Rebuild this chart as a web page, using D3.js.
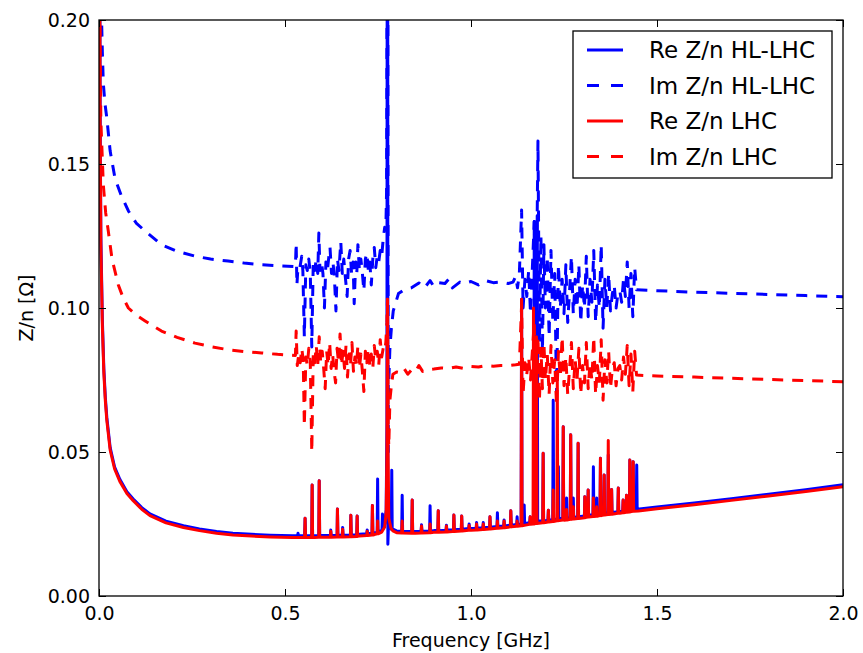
<!DOCTYPE html>
<html lang="en">
<head>
<meta charset="UTF-8">
<title>Z/n HL-LHC vs LHC</title>
<script src="https://d3js.org/d3.v7.min.js"></script>
<style>
  body { margin: 0; background: #fff; }
  text { font-family: "DejaVu Sans", sans-serif; fill: #000; }
</style>
</head>
<body>
<svg id="chart" width="863" height="653"></svg>
<script>
// axis ticks
const freqTicks = [0, 0.5, 1.0, 1.5, 2.0];
const zTicks = [0, 0.05, 0.10, 0.15, 0.20];
const seriesNames = ["Re Z/n HL-LHC", "Im Z/n HL-LHC", "Re Z/n LHC", "Im Z/n LHC"];

// Re Z/n HL-LHC, smooth part [GHz, Ohm]
const reHLBase = [[0.0015,0.26],[0.003,0.17],[0.005,0.125],[0.009,0.096],[0.013,0.079],[0.017,0.069],[0.021,0.062],[0.03,0.0515],[0.042,0.0448],[0.056,0.0405],[0.075,0.0362],[0.092,0.0337],[0.115,0.0307],[0.137,0.0285],[0.18,0.026],[0.227,0.0244],[0.27,0.0233],[0.316,0.0224],[0.36,0.0218],[0.41,0.0214],[0.46,0.0211],[0.52,0.0209],[0.58,0.0209],[0.64,0.0211],[0.70,0.0214],[0.74,0.0219],[0.76,0.0228],[0.768,0.025],[0.772,0.030],[0.774,0.06],[0.775,0.30],[0.776,0.30],[0.7765,0.018],[0.778,0.024],[0.782,0.0245],[0.79,0.0232],[0.80,0.0226],[0.85,0.0224],[0.90,0.0227],[0.95,0.023],[1.00,0.0234],[1.05,0.0239],[1.10,0.0245],[1.15,0.0253],[1.20,0.0261],[1.25,0.0269],[1.30,0.0277],[1.35,0.0285],[1.40,0.0293],[1.447,0.0301],[1.50,0.0309],[1.60,0.0323],[1.70,0.0338],[1.80,0.0353],[1.90,0.0369],[2.00,0.0386]];
// narrow resonances [GHz, base, peak]
const reHLSpikes = [[0.535,0.0209,0.0218],[0.554,0.0209,0.027],[0.573,0.0209,0.0385],[0.592,0.021,0.040],[0.623,0.021,0.0229],[0.641,0.0211,0.0302],[0.655,0.0211,0.0238],[0.677,0.0212,0.028],[0.694,0.0213,0.0278],[0.721,0.0216,0.0229],[0.735,0.0218,0.0314],[0.749,0.0222,0.0406],[0.762,0.0232,0.0285],[0.787,0.0232,0.0437],[0.815,0.0225,0.035],[0.842,0.0224,0.0333],[0.867,0.0225,0.0247],[0.890,0.0226,0.0313],[0.912,0.0227,0.0296],[0.934,0.0228,0.0246],[0.954,0.023,0.0281],[0.975,0.0232,0.0278],[0.995,0.0234,0.025],[1.015,0.0235,0.0255],[1.033,0.0237,0.0255],[1.051,0.0239,0.0275],[1.071,0.0241,0.0289],[1.089,0.0243,0.0264],[1.107,0.0246,0.0296],[1.124,0.0248,0.0275],[1.136,0.025,0.103],[1.143,0.025,0.0316],[1.159,0.0255,0.0275],[1.170,0.0257,0.13],[1.178,0.026,0.132],[1.194,0.026,0.0496],[1.208,0.0263,0.0298],[1.221,0.0265,0.068],[1.235,0.0268,0.045],[1.248,0.027,0.0588],[1.257,0.027,0.034],[1.268,0.0272,0.056],[1.275,0.0273,0.034],[1.288,0.0275,0.053],[1.306,0.0278,0.0345],[1.315,0.028,0.0368],[1.329,0.0282,0.0449],[1.338,0.0283,0.034],[1.348,0.0285,0.0478],[1.358,0.0287,0.042],[1.369,0.0289,0.049],[1.378,0.029,0.037],[1.396,0.0293,0.0375],[1.409,0.0295,0.0333],[1.418,0.0297,0.035],[1.427,0.0298,0.0472],[1.436,0.03,0.0466],[1.4455,0.0301,0.0455]];

// Re Z/n LHC
const reLHCBase = [[0.0015,0.25],[0.003,0.165],[0.005,0.122],[0.009,0.094],[0.013,0.0775],[0.017,0.0678],[0.021,0.061],[0.03,0.0507],[0.042,0.0441],[0.056,0.0398],[0.075,0.0356],[0.092,0.0331],[0.115,0.0301],[0.137,0.0279],[0.18,0.0254],[0.227,0.0238],[0.27,0.0227],[0.316,0.0218],[0.36,0.0212],[0.41,0.0208],[0.46,0.0205],[0.52,0.0203],[0.58,0.0203],[0.64,0.0205],[0.70,0.0208],[0.74,0.0213],[0.76,0.0222],[0.768,0.024],[0.772,0.029],[0.774,0.05],[0.7755,0.103],[0.777,0.05],[0.779,0.027],[0.785,0.0235],[0.79,0.0226],[0.80,0.022],[0.85,0.0218],[0.90,0.0221],[0.95,0.0224],[1.00,0.0228],[1.05,0.0233],[1.10,0.0239],[1.15,0.0247],[1.20,0.0255],[1.25,0.0263],[1.30,0.0271],[1.35,0.0279],[1.40,0.0287],[1.45,0.0295],[1.50,0.0303],[1.60,0.0317],[1.70,0.0332],[1.80,0.0347],[1.90,0.0363],[2.00,0.0379]];
const reLHCSpikes = [[0.554,0.0203,0.027],[0.573,0.0203,0.0385],[0.592,0.0204,0.040],[0.623,0.0204,0.0225],[0.641,0.0205,0.0302],[0.655,0.0205,0.0232],[0.677,0.0206,0.028],[0.694,0.0207,0.0278],[0.721,0.021,0.0225],[0.735,0.0212,0.0314],[0.749,0.0216,0.026],[0.815,0.0219,0.026],[0.842,0.0218,0.0333],[0.867,0.0219,0.0243],[0.890,0.022,0.025],[0.912,0.0221,0.0296],[0.934,0.0222,0.0243],[0.954,0.0224,0.0281],[0.975,0.0226,0.0278],[0.995,0.0228,0.0245],[1.015,0.0229,0.025],[1.033,0.0231,0.025],[1.051,0.0233,0.0275],[1.071,0.0235,0.026],[1.089,0.0237,0.026],[1.107,0.024,0.0296],[1.124,0.0242,0.026],[1.136,0.0244,0.103],[1.159,0.0249,0.0275],[1.168,0.025,0.10],[1.176,0.0252,0.09],[1.194,0.0254,0.0496],[1.208,0.0257,0.0298],[1.221,0.0259,0.0368],[1.232,0.0261,0.075],[1.248,0.0264,0.0588],[1.257,0.0264,0.030],[1.268,0.0266,0.056],[1.275,0.0267,0.031],[1.288,0.0269,0.053],[1.306,0.0272,0.0345],[1.315,0.0274,0.0368],[1.329,0.0276,0.034],[1.338,0.0277,0.031],[1.348,0.0279,0.0478],[1.358,0.0281,0.042],[1.369,0.0283,0.054],[1.378,0.0284,0.037],[1.396,0.0287,0.0375],[1.409,0.0289,0.0333],[1.418,0.0291,0.035],[1.427,0.0292,0.0472],[1.436,0.0294,0.0466]];

// Im Z/n HL-LHC
const imHL = [[0.006,0.205],[0.009,0.189],[0.0116,0.178],[0.016,0.171],[0.021,0.166],[0.03,0.1545],[0.043,0.145],[0.06,0.139],[0.079,0.1337],[0.1,0.1295],[0.124,0.1267],[0.168,0.122],[0.21,0.1197],[0.258,0.118],[0.3,0.117],[0.347,0.1163],[0.39,0.1156],[0.437,0.115],[0.48,0.1147],[0.528,0.1144],[0.530,0.1225],[0.532,0.108],[0.535,0.1145],[0.540,0.114],[0.545,0.118],[0.548,0.113],[0.552,0.0900],[0.556,0.115],[0.560,0.113],[0.564,0.117],[0.568,0.112],[0.572,0.0865],[0.576,0.116],[0.580,0.113],[0.584,0.117],[0.588,0.112],[0.591,0.126],[0.594,0.113],[0.598,0.116],[0.602,0.112],[0.606,0.100],[0.610,0.116],[0.614,0.113],[0.618,0.118],[0.621,0.121],[0.625,0.112],[0.629,0.116],[0.633,0.110],[0.637,0.099],[0.641,0.117],[0.645,0.113],[0.650,0.123],[0.654,0.112],[0.658,0.117],[0.662,0.111],[0.667,0.104],[0.671,0.117],[0.675,0.120],[0.679,0.112],[0.683,0.116],[0.686,0.1015],[0.690,0.116],[0.693,0.112],[0.696,0.122],[0.700,0.113],[0.704,0.117],[0.708,0.112],[0.712,0.106],[0.716,0.117],[0.720,0.119],[0.724,0.113],[0.728,0.116],[0.732,0.108],[0.736,0.117],[0.740,0.121],[0.744,0.114],[0.748,0.118],[0.752,0.116],[0.756,0.120],[0.760,0.118],[0.764,0.124],[0.768,0.128],[0.771,0.127],[0.773,0.14],[0.775,0.25],[0.776,0.30],[0.7775,0.05],[0.779,0.075],[0.782,0.086],[0.786,0.093],[0.791,0.099],[0.797,0.1016],[0.805,0.105],[0.82,0.1063],[0.84,0.107],[0.86,0.1087],[0.875,0.107],[0.89,0.1095],[0.90,0.1075],[0.91,0.1088],[0.93,0.1085],[0.94,0.110],[0.95,0.107],[0.97,0.109],[0.98,0.1085],[1.0,0.1092],[1.02,0.108],[1.04,0.1095],[1.06,0.1088],[1.08,0.109],[1.10,0.1085],[1.113,0.109],[1.12,0.111],[1.125,0.107],[1.13,0.112],[1.136,0.134],[1.14,0.100],[1.145,0.110],[1.15,0.104],[1.155,0.113],[1.16,0.098],[1.165,0.114],[1.17,0.130],[1.175,0.095],[1.18,0.158],[1.184,0.088],[1.188,0.125],[1.192,0.085],[1.196,0.122],[1.20,0.100],[1.205,0.118],[1.21,0.090],[1.215,0.120],[1.22,0.095],[1.225,0.112],[1.23,0.070],[1.235,0.115],[1.24,0.100],[1.245,0.110],[1.25,0.098],[1.255,0.115],[1.26,0.095],[1.265,0.106],[1.27,0.118],[1.275,0.098],[1.28,0.110],[1.285,0.100],[1.29,0.115],[1.295,0.095],[1.30,0.108],[1.305,0.100],[1.31,0.118],[1.315,0.097],[1.32,0.110],[1.325,0.102],[1.33,0.120],[1.335,0.095],[1.34,0.108],[1.345,0.100],[1.35,0.122],[1.355,0.093],[1.36,0.110],[1.365,0.100],[1.37,0.112],[1.375,0.099],[1.38,0.105],[1.385,0.108],[1.39,0.100],[1.395,0.105],[1.40,0.106],[1.405,0.102],[1.41,0.110],[1.415,0.104],[1.42,0.116],[1.425,0.100],[1.43,0.112],[1.435,0.097],[1.44,0.114],[1.445,0.1063],[1.50,0.1060],[1.60,0.1055],[1.70,0.1051],[1.80,0.1047],[1.90,0.1043],[2.00,0.1039]];

// Im Z/n LHC
const imLHC = [[0.002,0.205],[0.005,0.165],[0.0116,0.1428],[0.018,0.133],[0.025,0.1267],[0.035,0.117],[0.052,0.108],[0.065,0.1035],[0.079,0.100],[0.1,0.0975],[0.124,0.0955],[0.168,0.092],[0.21,0.0898],[0.258,0.0878],[0.3,0.0866],[0.348,0.0855],[0.39,0.0849],[0.437,0.0844],[0.48,0.0839],[0.528,0.0835],[0.530,0.092],[0.533,0.080],[0.537,0.084],[0.541,0.081],[0.545,0.086],[0.549,0.082],[0.552,0.059],[0.556,0.083],[0.560,0.080],[0.564,0.086],[0.568,0.081],[0.572,0.050],[0.576,0.084],[0.580,0.081],[0.584,0.087],[0.588,0.080],[0.592,0.090],[0.596,0.081],[0.600,0.085],[0.604,0.079],[0.608,0.072],[0.612,0.085],[0.616,0.080],[0.620,0.088],[0.624,0.079],[0.628,0.084],[0.632,0.078],[0.636,0.074],[0.640,0.086],[0.644,0.081],[0.648,0.091],[0.652,0.080],[0.656,0.085],[0.660,0.079],[0.664,0.087],[0.668,0.076],[0.672,0.084],[0.676,0.080],[0.680,0.088],[0.684,0.078],[0.688,0.083],[0.692,0.080],[0.696,0.087],[0.700,0.079],[0.704,0.084],[0.708,0.078],[0.712,0.071],[0.716,0.085],[0.720,0.081],[0.724,0.086],[0.728,0.080],[0.732,0.084],[0.736,0.079],[0.740,0.087],[0.744,0.082],[0.748,0.085],[0.752,0.080],[0.756,0.089],[0.760,0.083],[0.764,0.086],[0.768,0.085],[0.771,0.088],[0.774,0.095],[0.7755,0.103],[0.777,0.060],[0.779,0.052],[0.782,0.068],[0.786,0.073],[0.79,0.077],[0.80,0.0778],[0.81,0.0775],[0.82,0.079],[0.83,0.077],[0.84,0.0785],[0.85,0.0778],[0.86,0.080],[0.87,0.078],[0.88,0.0785],[0.90,0.0788],[0.92,0.0792],[0.94,0.079],[0.96,0.0795],[0.98,0.079],[1.00,0.0797],[1.02,0.0795],[1.04,0.080],[1.06,0.0798],[1.08,0.080],[1.10,0.0800],[1.12,0.0803],[1.13,0.0805],[1.136,0.101],[1.14,0.070],[1.145,0.081],[1.15,0.077],[1.155,0.083],[1.16,0.075],[1.165,0.085],[1.17,0.095],[1.175,0.062],[1.18,0.090],[1.184,0.068],[1.188,0.086],[1.192,0.072],[1.196,0.088],[1.20,0.075],[1.205,0.084],[1.21,0.070],[1.215,0.087],[1.22,0.074],[1.225,0.082],[1.23,0.066],[1.235,0.085],[1.24,0.076],[1.245,0.090],[1.25,0.073],[1.255,0.083],[1.26,0.070],[1.265,0.079],[1.27,0.088],[1.275,0.072],[1.28,0.082],[1.285,0.075],[1.29,0.086],[1.295,0.070],[1.30,0.080],[1.305,0.074],[1.31,0.088],[1.315,0.072],[1.32,0.081],[1.325,0.075],[1.33,0.090],[1.335,0.070],[1.34,0.080],[1.345,0.074],[1.35,0.089],[1.355,0.068],[1.36,0.082],[1.365,0.074],[1.37,0.085],[1.375,0.072],[1.38,0.079],[1.385,0.081],[1.39,0.073],[1.395,0.079],[1.40,0.080],[1.405,0.075],[1.41,0.083],[1.415,0.077],[1.42,0.087],[1.425,0.073],[1.43,0.084],[1.435,0.071],[1.44,0.085],[1.445,0.0767],[1.50,0.0764],[1.60,0.0760],[1.70,0.0756],[1.80,0.0752],[1.90,0.0748],[2.00,0.0744]];

const margin = { top: 20, right: 20, bottom: 57, left: 99 };
const width = 863 - margin.left - margin.right;   // 744
const height = 653 - margin.top - margin.bottom;  // 576

const svg = d3.select("#chart");
const g = svg.append("g").attr("transform", `translate(${margin.left},${margin.top})`);

const x = d3.scaleLinear().domain([0, 2.0]).range([0, width]);
const y = d3.scaleLinear().domain([0, 0.20]).range([height, 0]);

svg.append("defs").append("clipPath").attr("id", "plot-clip")
  .append("rect").attr("width", width).attr("height", height);

function withSpikes(base, spikes, w) {
  const pts = base.slice();
  spikes.forEach(([f, b, p]) => { pts.push([f - w, b], [f, p], [f + w, b]); });
  return pts.sort((a, b) => a[0] - b[0]);
}

const line = d3.line().x(d => x(d[0])).y(d => y(d[1]));

const series = [
  { name: seriesNames[0], data: withSpikes(reHLBase, reHLSpikes, 0.0012), color: "#0000ff", dash: null },
  { name: seriesNames[1], data: imHL, color: "#0000ff", dash: "11,9" },
  { name: seriesNames[2], data: withSpikes(reLHCBase, reLHCSpikes, 0.0012), color: "#ff0000", dash: null },
  { name: seriesNames[3], data: imLHC, color: "#ff0000", dash: "11,9" }
];

const plot = g.append("g").attr("clip-path", "url(#plot-clip)");
series.forEach(s => {
  plot.append("path")
    .datum(s.data)
    .attr("d", line)
    .attr("fill", "none")
    .attr("stroke", s.color)
    .attr("stroke-width", 3)
    .attr("stroke-linejoin", "round")
    .attr("stroke-dasharray", s.dash);
});

// axes, ticks pointing inward on all four sides
const tickLen = 7;
const xAxis = g.append("g").attr("transform", `translate(0,${height})`)
  .call(d3.axisBottom(x).tickValues(freqTicks).tickFormat(d3.format(".1f")).tickSizeInner(-tickLen).tickSizeOuter(0).tickPadding(11));
const yAxis = g.append("g")
  .call(d3.axisLeft(y).tickValues(zTicks).tickFormat(d3.format(".2f")).tickSizeInner(-tickLen).tickSizeOuter(0).tickPadding(9));
g.append("g")
  .call(d3.axisTop(x).tickValues(freqTicks).tickFormat("").tickSizeInner(-tickLen).tickSizeOuter(0));
g.append("g").attr("transform", `translate(${width},0)`)
  .call(d3.axisRight(y).tickValues(zTicks).tickFormat("").tickSizeInner(-tickLen).tickSizeOuter(0));

g.selectAll(".domain").remove();
g.selectAll(".tick line").attr("stroke", "#000").attr("stroke-width", 1);
g.selectAll(".tick text").style("font-size", "19px").attr("fill", "#000");

g.append("rect").attr("width", width).attr("height", height)
  .attr("fill", "none").attr("stroke", "#000").attr("stroke-width", 1.3);

// axis labels
g.append("text").attr("x", width / 2).attr("y", height + 51)
  .attr("text-anchor", "middle").style("font-size", "19px").text("Frequency [GHz]");
g.append("text").attr("transform", `translate(${-66},${height / 2}) rotate(-90)`)
  .attr("text-anchor", "middle").style("font-size", "19px").text("Z/n [Ω]");

// legend
const legend = g.append("g").attr("transform", `translate(${573 - margin.left},${31 - margin.top})`);
legend.append("rect").attr("width", 259).attr("height", 147)
  .attr("fill", "#fff").attr("stroke", "#000").attr("stroke-width", 1.3);
series.forEach((s, i) => {
  const cy = 19 + i * 35.5;
  legend.append("line").attr("x1", 14).attr("x2", 50).attr("y1", cy).attr("y2", cy)
    .attr("stroke", s.color).attr("stroke-width", 3).attr("stroke-dasharray", s.dash ? "12,12" : null);
  legend.append("text").attr("x", 76).attr("y", cy).attr("dy", "0.36em")
    .style("font-size", "23px").text(s.name);
});
</script>
</body>
</html>
